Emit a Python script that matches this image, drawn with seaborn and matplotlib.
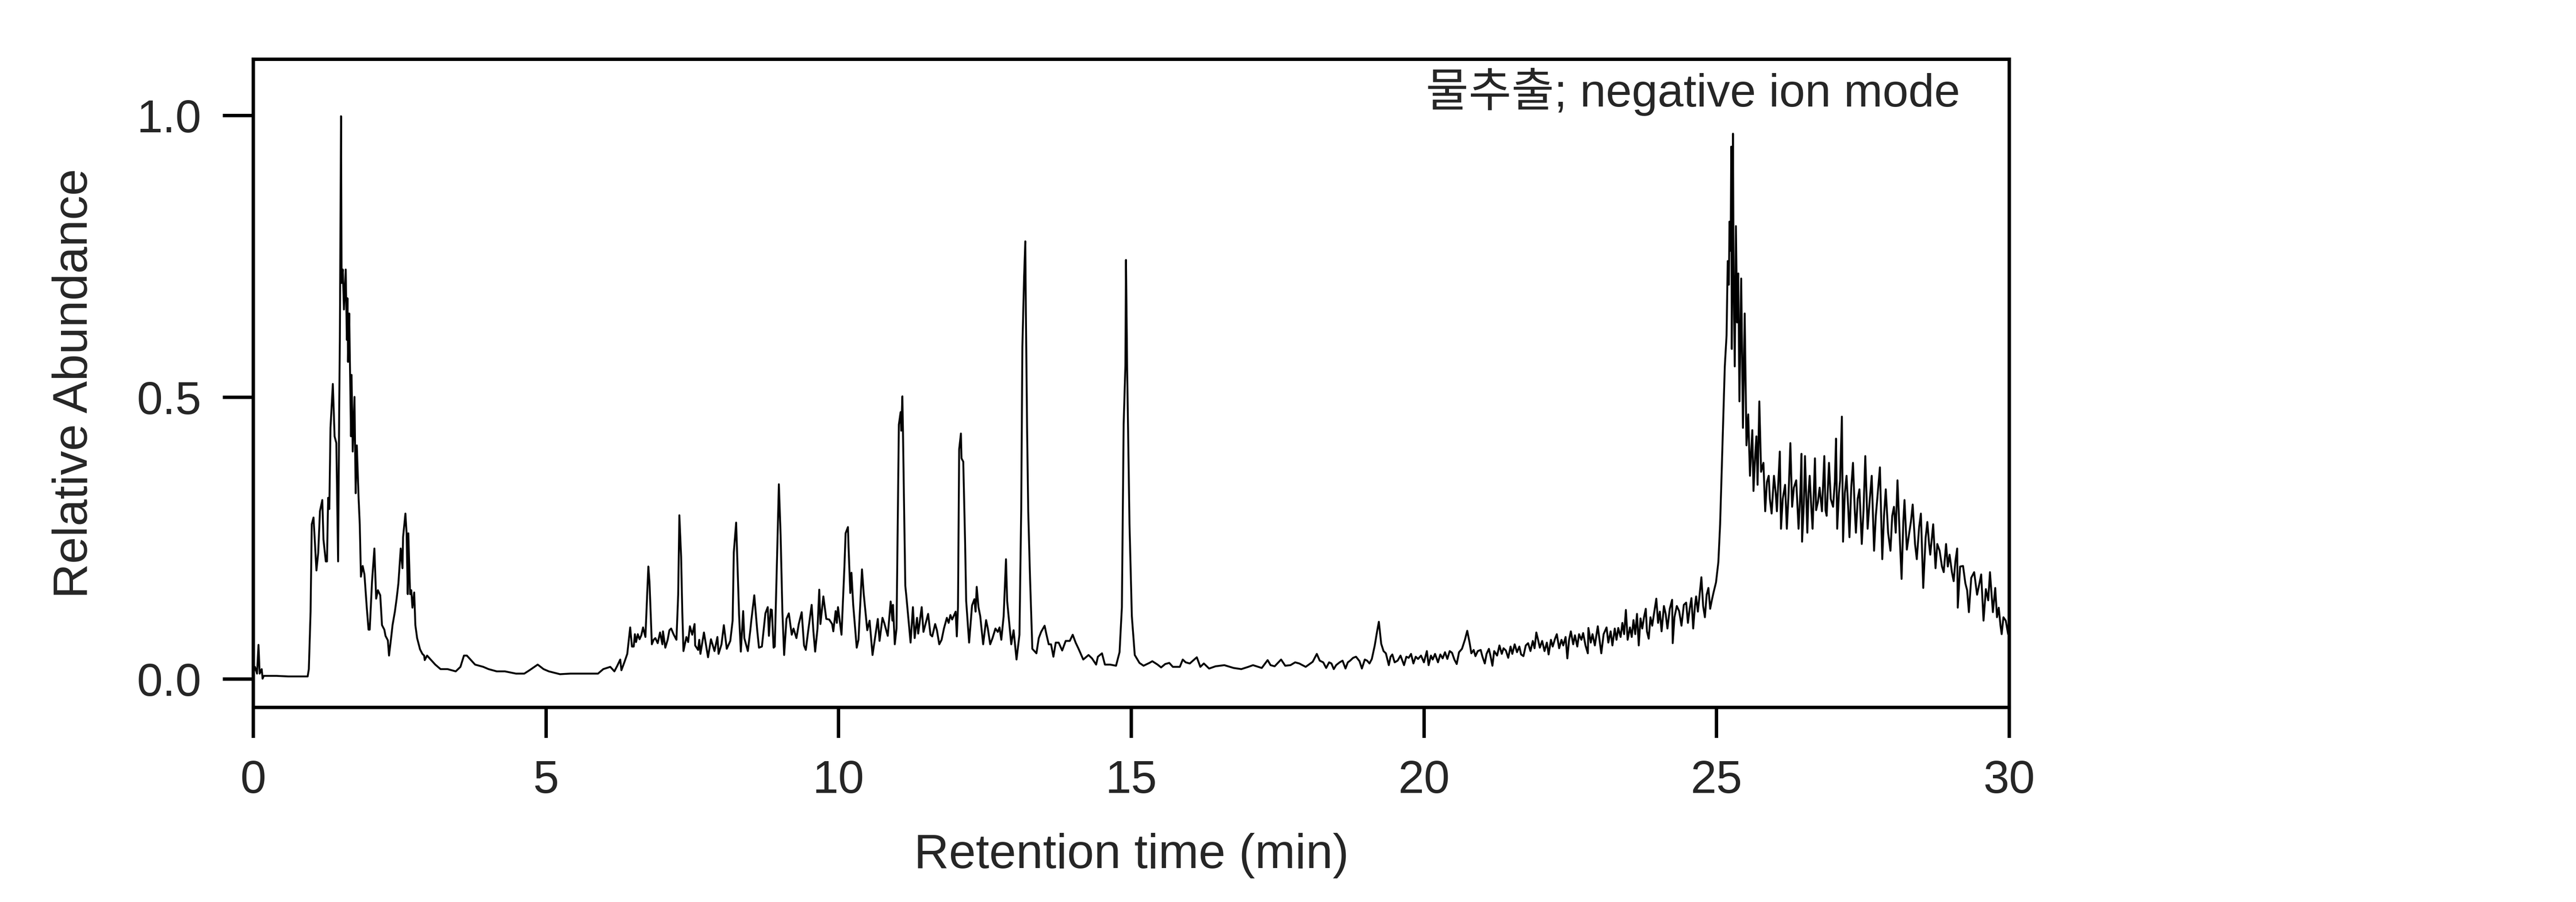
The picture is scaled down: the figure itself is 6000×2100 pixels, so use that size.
"""
Total ion chromatogram, water extract, negative ion mode.
"""

import matplotlib.pyplot as plt
import pandas as pd
import seaborn as sns

# Chromatogram trace, split into retention windows
rt_a = [0.0, 0.03, 0.065, 0.09, 0.11, 0.145, 0.16, 0.18, 0.4, 0.6, 0.8, 0.93, 0.95, 0.98,
        1.0, 1.03, 1.08, 1.11, 1.14, 1.18, 1.2, 1.24, 1.26, 1.28, 1.3, 1.32, 1.36, 1.39,
        1.42, 1.45, 1.47, 1.48, 1.5, 1.51, 1.53, 1.55, 1.58, 1.6, 1.61, 1.62, 1.64, 1.67,
        1.68, 1.7, 1.73, 1.75, 1.77, 1.8, 1.82, 1.84, 1.87, 1.9, 1.94, 1.97, 1.99, 2.03,
        2.07, 2.1, 2.13, 2.17, 2.2, 2.24, 2.26, 2.3, 2.32, 2.36, 2.38, 2.42, 2.45, 2.48,
        2.52, 2.55, 2.56, 2.6, 2.62, 2.64, 2.65, 2.68, 2.7, 2.72, 2.75, 2.77, 2.8, 2.85,
        2.89, 2.92, 2.93, 2.97, 3.04, 3.11, 3.2, 3.32, 3.46, 3.54, 3.6, 3.65, 3.72, 3.79,
        3.93, 4.02, 4.16, 4.3, 4.49, 4.63, 4.72, 4.86, 4.96, 5.05, 5.24, 5.42, 5.66, 5.89,
        5.98]
ab_a = [0.010, 0.022, 0.010, 0.061, 0.010, 0.018, 0.001, 0.006, 0.006, 0.005, 0.005,
        0.005, 0.018, 0.12, 0.275, 0.287, 0.193, 0.224, 0.298, 0.318, 0.248, 0.209, 0.209,
        0.322, 0.302, 0.446, 0.524, 0.431, 0.419, 0.209, 0.493, 0.602, 0.999, 0.703, 0.727,
        0.656, 0.727, 0.602, 0.676, 0.563, 0.649, 0.431, 0.54, 0.404, 0.501, 0.33, 0.415,
        0.322, 0.275, 0.182, 0.201, 0.186, 0.127, 0.088, 0.088, 0.174, 0.232, 0.143, 0.158,
        0.149, 0.096, 0.088, 0.077, 0.069, 0.042, 0.077, 0.096, 0.12, 0.143, 0.17, 0.232,
        0.197, 0.252, 0.294, 0.259, 0.151, 0.259, 0.151, 0.158, 0.127, 0.154, 0.096, 0.073,
        0.053, 0.045, 0.042, 0.034, 0.042, 0.034, 0.026, 0.018, 0.018, 0.014, 0.022, 0.042,
        0.042, 0.034, 0.026, 0.022, 0.018, 0.014, 0.014, 0.01, 0.01, 0.016, 0.026, 0.018,
        0.014, 0.009, 0.01, 0.01, 0.01, 0.018]

rt_b = [6.1, 6.17, 6.22, 6.27, 6.29, 6.34, 6.39, 6.44, 6.47, 6.5, 6.52, 6.54, 6.57, 6.6,
        6.63, 6.66, 6.7, 6.75, 6.77, 6.81, 6.84, 6.87, 6.91, 6.95, 6.99, 7.0, 7.04, 7.08,
        7.11, 7.14, 7.18, 7.23, 7.26, 7.28, 7.31, 7.33, 7.35, 7.4, 7.43, 7.46, 7.5, 7.54,
        7.55, 7.6, 7.62, 7.64, 7.7, 7.77, 7.82, 7.88, 7.93, 7.95, 8.0, 8.04, 8.09, 8.15,
        8.19, 8.21, 8.25, 8.28, 8.3, 8.33, 8.37, 8.39, 8.45, 8.49, 8.51, 8.56, 8.61, 8.64,
        8.69, 8.75, 8.79, 8.81, 8.84, 8.86, 8.89, 8.91, 8.95, 8.98, 9.01, 9.04, 9.07, 9.11,
        9.15, 9.2, 9.23, 9.28, 9.32, 9.37, 9.41, 9.44, 9.48, 9.54, 9.57, 9.6, 9.64, 9.67,
        9.69, 9.74, 9.79, 9.84, 9.89, 9.91, 9.95, 9.97, 9.99, 10.05, 10.1, 10.12, 10.16,
        10.17, 10.2, 10.22, 10.25, 10.31, 10.34, 10.4, 10.43, 10.49, 10.53, 10.58, 10.67,
        10.7, 10.75, 10.78, 10.84, 10.89, 10.92, 10.93, 10.96, 10.99]
ab_b = [0.022, 0.014, 0.024, 0.035, 0.016, 0.03, 0.045, 0.092, 0.058, 0.058, 0.08, 0.066,
        0.08, 0.071, 0.078, 0.092, 0.075, 0.2, 0.172, 0.062, 0.07, 0.073, 0.064, 0.083,
        0.062, 0.085, 0.056, 0.07, 0.087, 0.09, 0.08, 0.07, 0.15, 0.291, 0.217, 0.12, 0.05,
        0.075, 0.066, 0.094, 0.079, 0.098, 0.06, 0.052, 0.07, 0.045, 0.083, 0.039, 0.071,
        0.05, 0.075, 0.045, 0.062, 0.096, 0.054, 0.068, 0.104, 0.225, 0.278, 0.18, 0.115,
        0.049, 0.121, 0.073, 0.05, 0.085, 0.105, 0.149, 0.087, 0.056, 0.058, 0.117, 0.128,
        0.077, 0.124, 0.123, 0.056, 0.058, 0.22, 0.346, 0.255, 0.12, 0.043, 0.107, 0.117,
        0.079, 0.09, 0.073, 0.098, 0.119, 0.06, 0.052, 0.085, 0.132, 0.085, 0.049, 0.09,
        0.159, 0.098, 0.147, 0.107, 0.106, 0.098, 0.085, 0.121, 0.1, 0.128, 0.079, 0.2,
        0.259, 0.27, 0.236, 0.153, 0.189, 0.132, 0.056, 0.07, 0.195, 0.151, 0.087, 0.104,
        0.043, 0.107, 0.068, 0.109, 0.1, 0.077, 0.138, 0.104, 0.132, 0.062, 0.09]

rt_c = [11.03, 11.06, 11.07, 11.09, 11.1, 11.12, 11.14, 11.16, 11.23, 11.27, 11.3, 11.34,
        11.36, 11.42, 11.45, 11.49, 11.53, 11.57, 11.6, 11.65, 11.68, 11.72, 11.76, 11.8,
        11.85, 11.88, 11.91, 11.94, 12.0, 12.02, 12.04, 12.06, 12.09, 12.1, 12.13, 12.16,
        12.18, 12.23, 12.28, 12.32, 12.34, 12.36, 12.39, 12.42, 12.47, 12.52, 12.55, 12.59,
        12.63, 12.68, 12.72, 12.75, 12.78, 12.82, 12.86, 12.88, 12.95, 12.99, 13.04, 13.09,
        13.12, 13.14, 13.17, 13.19, 13.2, 13.22, 13.24, 13.27, 13.31, 13.38, 13.42, 13.46,
        13.52, 13.55, 13.59, 13.63, 13.67, 13.71, 13.76, 13.82, 13.88, 13.95, 14.0, 14.05,
        14.1, 14.18, 14.27, 14.33, 14.4, 14.43, 14.5, 14.55, 14.64, 14.74, 14.8, 14.84,
        14.87, 14.9, 14.91, 14.93, 14.97, 15.01, 15.06, 15.14, 15.21, 15.31, 15.36, 15.45,
        15.51, 15.58, 15.65, 15.71, 15.83, 15.88, 15.93, 16.0, 16.12, 16.18]
ab_c = [0.452, 0.474, 0.441, 0.502, 0.441, 0.3, 0.166, 0.145, 0.065, 0.128, 0.073, 0.109,
        0.081, 0.128, 0.084, 0.1, 0.116, 0.079, 0.076, 0.098, 0.087, 0.062, 0.07, 0.09,
        0.109, 0.1, 0.114, 0.106, 0.12, 0.076, 0.128, 0.408, 0.436, 0.392, 0.386, 0.25,
        0.139, 0.065, 0.131, 0.142, 0.12, 0.164, 0.128, 0.112, 0.062, 0.105, 0.09, 0.062,
        0.073, 0.09, 0.084, 0.092, 0.07, 0.112, 0.213, 0.139, 0.062, 0.087, 0.035, 0.079,
        0.3, 0.59, 0.716, 0.777, 0.65, 0.45, 0.298, 0.183, 0.054, 0.046, 0.073, 0.084,
        0.095, 0.08, 0.062, 0.062, 0.04, 0.065, 0.065, 0.051, 0.068, 0.068, 0.079, 0.065,
        0.054, 0.035, 0.043, 0.037, 0.026, 0.04, 0.046, 0.026, 0.026, 0.024, 0.048, 0.128,
        0.452, 0.557, 0.744, 0.551, 0.276, 0.112, 0.043, 0.029, 0.024, 0.029, 0.032, 0.026,
        0.021, 0.027, 0.029, 0.022, 0.022, 0.035, 0.03, 0.028, 0.039, 0.022]

rt_d = [16.24, 16.33, 16.44, 16.59, 16.75, 16.88, 17.0, 17.08, 17.23, 17.33, 17.38, 17.45,
        17.56, 17.63, 17.72, 17.8, 17.87, 17.98, 18.1, 18.17, 18.22, 18.28, 18.33, 18.38,
        18.42, 18.46, 18.5, 18.56, 18.61, 18.66, 18.7, 18.74, 18.79, 18.84, 18.9, 18.94,
        18.99, 19.03, 19.07, 19.11, 19.16, 19.2, 19.23, 19.27, 19.31, 19.35, 19.4, 19.43,
        19.46, 19.5, 19.55, 19.6, 19.66, 19.7, 19.74, 19.78, 19.82, 19.86, 19.9, 19.95,
        20.0, 20.05, 20.08, 20.12, 20.15, 20.19, 20.24, 20.28, 20.32, 20.36, 20.4, 20.44,
        20.48, 20.52, 20.56, 20.6, 20.65, 20.7, 20.74, 20.78, 20.81, 20.85, 20.88, 20.92,
        20.97, 21.0, 21.04, 21.07, 21.11, 21.14, 21.17, 21.2, 21.25, 21.29, 21.33, 21.36,
        21.4, 21.44, 21.48, 21.51, 21.55, 21.59, 21.63, 21.66, 21.7, 21.74, 21.78, 21.82,
        21.86, 21.89, 21.92, 21.95, 21.98, 22.02, 22.06, 22.1, 22.13, 22.17, 22.2, 22.24,
        22.27, 22.31, 22.35, 22.38, 22.42, 22.45, 22.48, 22.51, 22.55, 22.58, 22.62, 22.65,
        22.69, 22.72, 22.76, 22.8, 22.81, 22.85, 22.88, 22.92, 22.97, 23.0, 23.03, 23.07,
        23.12, 23.15, 23.19, 23.22, 23.26, 23.29, 23.32, 23.36, 23.39, 23.42, 23.45, 23.48,
        23.52, 23.55, 23.58, 23.61, 23.64, 23.67, 23.7, 23.73, 23.76, 23.79, 23.81, 23.84,
        23.87, 23.9, 23.93, 23.97, 24.0, 24.03, 24.06, 24.1, 24.13, 24.16, 24.2, 24.24,
        24.25, 24.28, 24.32, 24.36, 24.4, 24.44, 24.48, 24.51, 24.54, 24.57, 24.6, 24.63,
        24.65, 24.68, 24.71, 24.74, 24.77, 24.8, 24.83, 24.86, 24.89, 24.92, 24.95, 24.99,
        25.03]
ab_d = [0.028, 0.019, 0.023, 0.025, 0.02, 0.018, 0.022, 0.025, 0.02, 0.034, 0.025, 0.023,
        0.035, 0.024, 0.025, 0.03, 0.028, 0.022, 0.031, 0.045, 0.033, 0.03, 0.02, 0.03,
        0.028, 0.018, 0.025, 0.03, 0.033, 0.019, 0.03, 0.033, 0.038, 0.04, 0.032, 0.019,
        0.035, 0.033, 0.028, 0.036, 0.06, 0.085, 0.102, 0.063, 0.05, 0.046, 0.025, 0.04,
        0.044, 0.03, 0.033, 0.042, 0.025, 0.04, 0.038, 0.045, 0.028, 0.04, 0.036, 0.042,
        0.03, 0.05, 0.025, 0.042, 0.035, 0.045, 0.03, 0.044, 0.037, 0.048, 0.036, 0.05,
        0.047, 0.035, 0.027, 0.048, 0.054, 0.07, 0.086, 0.065, 0.046, 0.052, 0.041, 0.05,
        0.052, 0.04, 0.028, 0.045, 0.054, 0.04, 0.024, 0.05, 0.042, 0.06, 0.045, 0.055,
        0.051, 0.038, 0.058, 0.045, 0.062, 0.048, 0.058, 0.044, 0.041, 0.06, 0.064, 0.05,
        0.068, 0.055, 0.083, 0.07, 0.056, 0.068, 0.05, 0.065, 0.044, 0.07, 0.058, 0.072,
        0.08, 0.055, 0.07, 0.06, 0.075, 0.037, 0.07, 0.085, 0.062, 0.078, 0.058, 0.08,
        0.07, 0.082, 0.06, 0.046, 0.091, 0.065, 0.08, 0.06, 0.094, 0.07, 0.046, 0.08,
        0.092, 0.065, 0.085, 0.06, 0.09, 0.07, 0.091, 0.075, 0.1, 0.08, 0.123, 0.07,
        0.092, 0.075, 0.105, 0.08, 0.116, 0.06, 0.108, 0.09, 0.11, 0.125, 0.085, 0.072,
        0.11, 0.095, 0.116, 0.143, 0.1, 0.12, 0.085, 0.13, 0.116, 0.09, 0.125, 0.141,
        0.064, 0.11, 0.13, 0.121, 0.095, 0.132, 0.136, 0.1, 0.125, 0.144, 0.09, 0.13,
        0.147, 0.12, 0.15, 0.181, 0.13, 0.11, 0.15, 0.162, 0.125, 0.141, 0.155, 0.172,
        0.208]

rt_e = [25.06, 25.1, 25.14, 25.17, 25.19, 25.21, 25.22, 25.24, 25.25, 25.26, 25.27, 25.28,
        25.29, 25.31, 25.33, 25.35, 25.37, 25.39, 25.42, 25.45, 25.48, 25.51, 25.54, 25.57,
        25.61, 25.63, 25.66, 25.68, 25.7, 25.73, 25.76, 25.8, 25.83, 25.86, 25.89, 25.91,
        25.94, 25.98, 26.01, 26.03, 26.08, 26.1, 26.13, 26.17, 26.2, 26.23, 26.26, 26.29,
        26.32, 26.36, 26.4, 26.43, 26.45, 26.46, 26.49, 26.51, 26.55, 26.57, 26.59, 26.62,
        26.64, 26.68, 26.7, 26.73, 26.76, 26.8, 26.84, 26.86, 26.88, 26.92, 26.95, 26.99,
        27.02, 27.04, 27.06, 27.09, 27.11, 27.14, 27.16, 27.19, 27.22, 27.25, 27.27, 27.3,
        27.33, 27.36, 27.38, 27.41, 27.44, 27.48, 27.51, 27.54, 27.58, 27.61, 27.65, 27.69,
        27.72, 27.74, 27.79, 27.83, 27.86, 27.89, 27.93, 27.97, 28.0, 28.03, 28.06, 28.09,
        28.13, 28.16, 28.19, 28.21, 28.25, 28.28, 28.32, 28.35, 28.39, 28.42, 28.46, 28.49,
        28.53, 28.57, 28.6, 28.63, 28.65, 28.7, 28.74, 28.77, 28.81, 28.85, 28.88, 28.92,
        28.95, 28.98, 29.02, 29.05, 29.08, 29.11, 29.12, 29.16, 29.21, 29.25, 29.28, 29.31,
        29.35, 29.4, 29.45, 29.49, 29.52, 29.56, 29.6, 29.64, 29.67, 29.72, 29.76, 29.79,
        29.82, 29.85, 29.87, 29.9, 29.94, 29.98, 30.0]
ab_e = [0.275, 0.415, 0.555, 0.61, 0.742, 0.7, 0.812, 0.76, 0.945, 0.586, 0.8, 0.968, 0.72,
        0.555, 0.804, 0.633, 0.72, 0.493, 0.711, 0.446, 0.649, 0.415, 0.47, 0.361, 0.442,
        0.334, 0.4, 0.431, 0.345, 0.493, 0.368, 0.384, 0.298, 0.35, 0.361, 0.32, 0.294,
        0.361, 0.33, 0.298, 0.404, 0.267, 0.32, 0.345, 0.267, 0.33, 0.419, 0.306, 0.34,
        0.353, 0.267, 0.33, 0.4, 0.244, 0.31, 0.396, 0.26, 0.33, 0.361, 0.3, 0.267, 0.392,
        0.3, 0.314, 0.34, 0.298, 0.396, 0.3, 0.29, 0.384, 0.32, 0.306, 0.35, 0.427, 0.267,
        0.33, 0.353, 0.466, 0.244, 0.33, 0.361, 0.3, 0.252, 0.34, 0.384, 0.3, 0.26, 0.32,
        0.337, 0.24, 0.3, 0.396, 0.267, 0.31, 0.361, 0.228, 0.29, 0.314, 0.376, 0.213, 0.29,
        0.337, 0.26, 0.228, 0.29, 0.306, 0.26, 0.353, 0.25, 0.178, 0.28, 0.318, 0.23, 0.252,
        0.28, 0.31, 0.24, 0.213, 0.27, 0.294, 0.162, 0.25, 0.279, 0.24, 0.221, 0.275, 0.197,
        0.24, 0.228, 0.2, 0.19, 0.24, 0.2, 0.221, 0.19, 0.174, 0.21, 0.232, 0.127, 0.2,
        0.201, 0.17, 0.158, 0.119, 0.18, 0.19, 0.15, 0.17, 0.186, 0.104, 0.16, 0.14, 0.19,
        0.119, 0.162, 0.11, 0.127, 0.095, 0.08, 0.11, 0.104, 0.08, 0.095]

x_ticks = [0, 5, 10, 15, 20, 25, 30]
y_ticks = [0.0, 0.5, 1.0]
y_tick_labels = ["0.0", "0.5", "1.0"]
x_label = "Retention time (min)"
y_label = "Relative Abundance"
sample_label = "물추출; negative ion mode"

df = pd.DataFrame(
    {
        "rt": rt_a + rt_b + rt_c + rt_d + rt_e,
        "abundance": ab_a + ab_b + ab_c + ab_d + ab_e,
    }
)

sns.set_style("ticks")
plt.rcParams["font.family"] = ["Liberation Sans", "Noto Sans CJK KR", "DejaVu Sans"]

fig = plt.figure(figsize=(20, 7), dpi=300)
ax = fig.add_axes([0.0983, 0.2157, 0.6817, 0.7186])

sns.lineplot(
    data=df,
    x="rt",
    y="abundance",
    color="black",
    linewidth=1.05,
    sort=False,
    estimator=None,
    ax=ax,
)

ax.set_xlim(0, 30)
ax.set_ylim(-0.05, 1.10)
ax.set_xticks(x_ticks)
ax.set_yticks(y_ticks)
ax.set_yticklabels(y_tick_labels)
ax.tick_params(direction="out", length=17, width=1.9, labelsize=26, pad=12, color="black")

for spine in ax.spines.values():
    spine.set_linewidth(1.9)
    spine.set_color("black")

ax.set_xlabel(x_label, fontsize=27, labelpad=17)
ax.set_ylabel(y_label, fontsize=27, labelpad=22)

ax.text(0.972, 0.927, sample_label, transform=ax.transAxes,
        ha="right", va="baseline", fontsize=26)

fig.savefig("out.png", dpi=300, facecolor="white")
plt.close(fig)
